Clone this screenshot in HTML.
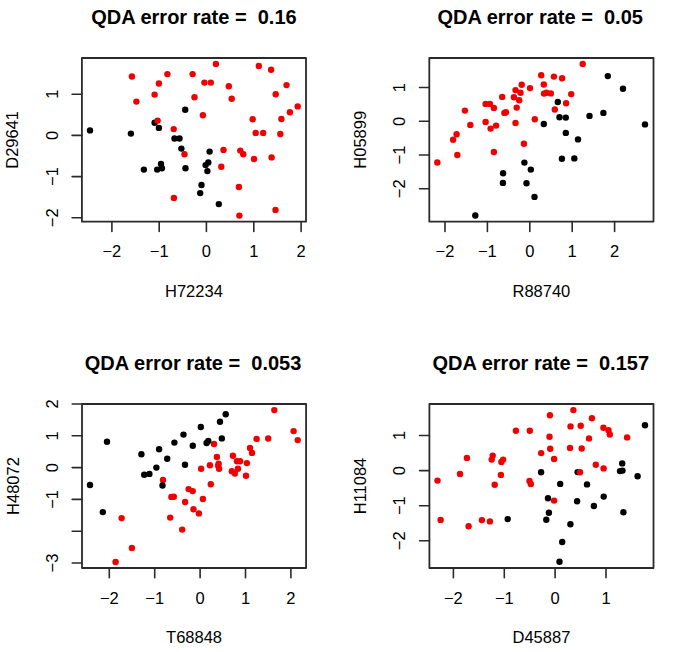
<!DOCTYPE html><html><head><meta charset="utf-8"><style>html,body{margin:0;padding:0;background:#fff;width:685px;height:652px;overflow:hidden}svg{display:block}text{font-family:"Liberation Sans",sans-serif;fill:#000}</style></head><body>
<svg width="685" height="652" viewBox="0 0 685 652">
<rect width="685" height="652" fill="#fff"/>
<circle cx="131.9" cy="76.5" r="3.2" fill="#f00000"/><circle cx="167.4" cy="74.1" r="3.2" fill="#f00000"/><circle cx="192.6" cy="74.1" r="3.2" fill="#f00000"/><circle cx="158.9" cy="83.5" r="3.2" fill="#f00000"/><circle cx="154.6" cy="94.6" r="3.2" fill="#f00000"/><circle cx="136.4" cy="101.6" r="3.2" fill="#f00000"/><circle cx="194.5" cy="97.2" r="3.2" fill="#f00000"/><circle cx="173.7" cy="129.1" r="3.2" fill="#f00000"/><circle cx="215.9" cy="63.9" r="3.2" fill="#f00000"/><circle cx="204.4" cy="82.6" r="3.2" fill="#f00000"/><circle cx="210.8" cy="82.6" r="3.2" fill="#f00000"/><circle cx="228.8" cy="86.3" r="3.2" fill="#f00000"/><circle cx="231.7" cy="98.8" r="3.2" fill="#f00000"/><circle cx="202.9" cy="115.2" r="3.2" fill="#f00000"/><circle cx="258.8" cy="66" r="3.2" fill="#f00000"/><circle cx="271.1" cy="69.7" r="3.2" fill="#f00000"/><circle cx="286.5" cy="85.1" r="3.2" fill="#f00000"/><circle cx="275.7" cy="94.2" r="3.2" fill="#f00000"/><circle cx="297.7" cy="106.4" r="3.2" fill="#f00000"/><circle cx="289.9" cy="112.2" r="3.2" fill="#f00000"/><circle cx="281.4" cy="119" r="3.2" fill="#f00000"/><circle cx="252.7" cy="119.3" r="3.2" fill="#f00000"/><circle cx="255.7" cy="132.9" r="3.2" fill="#f00000"/><circle cx="263.2" cy="132.9" r="3.2" fill="#f00000"/><circle cx="280.3" cy="134" r="3.2" fill="#f00000"/><circle cx="184.5" cy="154.3" r="3.2" fill="#f00000"/><circle cx="173.9" cy="197.9" r="3.2" fill="#f00000"/><circle cx="223.5" cy="149.9" r="3.2" fill="#f00000"/><circle cx="240.3" cy="150.6" r="3.2" fill="#f00000"/><circle cx="243.3" cy="154.3" r="3.2" fill="#f00000"/><circle cx="254" cy="159" r="3.2" fill="#f00000"/><circle cx="271.6" cy="157.4" r="3.2" fill="#f00000"/><circle cx="221.3" cy="166.8" r="3.2" fill="#f00000"/><circle cx="238.9" cy="187" r="3.2" fill="#f00000"/><circle cx="275.5" cy="209.9" r="3.2" fill="#f00000"/><circle cx="239.4" cy="215.6" r="3.2" fill="#f00000"/><circle cx="185.2" cy="109.8" r="3.2" fill="#000"/><circle cx="154.6" cy="122.7" r="3.2" fill="#000"/><circle cx="158.9" cy="127.9" r="3.2" fill="#000"/><circle cx="90" cy="130.4" r="3.2" fill="#000"/><circle cx="130.9" cy="133.6" r="3.2" fill="#000"/><circle cx="174.5" cy="138.5" r="3.2" fill="#000"/><circle cx="179.5" cy="138.5" r="3.2" fill="#000"/><circle cx="181.4" cy="148.6" r="3.2" fill="#000"/><circle cx="161" cy="164" r="3.2" fill="#000"/><circle cx="143.9" cy="169.6" r="3.2" fill="#000"/><circle cx="157.2" cy="169.6" r="3.2" fill="#000"/><circle cx="161.9" cy="168.3" r="3.2" fill="#000"/><circle cx="185.5" cy="168.3" r="3.2" fill="#000"/><circle cx="209.6" cy="151.6" r="3.2" fill="#000"/><circle cx="208.3" cy="162.4" r="3.2" fill="#000"/><circle cx="205.6" cy="165.1" r="3.2" fill="#000"/><circle cx="207.4" cy="171.1" r="3.2" fill="#000"/><circle cx="201.5" cy="185" r="3.2" fill="#000"/><circle cx="200.2" cy="193.1" r="3.2" fill="#000"/><circle cx="218.8" cy="204.1" r="3.2" fill="#000"/><circle cx="157.6" cy="120.6" r="3.2" fill="#f00000"/>
<rect x="81.9" y="58" width="224.1" height="163.7" fill="none" stroke="#2a2a2a" stroke-width="1.8" stroke-linejoin="round"/>
<path d="M111.9 221.7V231.5M159.2 221.7V231.5M206.4 221.7V231.5M253.8 221.7V231.5M301.1 221.7V231.5M81.9 217.8H72.1M81.9 176.6H72.1M81.9 135.4H72.1M81.9 94.2H72.1" stroke="#2a2a2a" stroke-width="1.6" stroke-linecap="round" fill="none"/>
<text x="111.9" y="257.3" font-size="16.5" text-anchor="middle">−2</text>
<text x="159.2" y="257.3" font-size="16.5" text-anchor="middle">−1</text>
<text x="206.4" y="257.3" font-size="16.5" text-anchor="middle">0</text>
<text x="253.8" y="257.3" font-size="16.5" text-anchor="middle">1</text>
<text x="301.1" y="257.3" font-size="16.5" text-anchor="middle">2</text>
<text transform="translate(57.9 217.8) rotate(-90)" font-size="16.5" text-anchor="middle">−2</text>
<text transform="translate(57.9 176.6) rotate(-90)" font-size="16.5" text-anchor="middle">−1</text>
<text transform="translate(57.9 135.4) rotate(-90)" font-size="16.5" text-anchor="middle">0</text>
<text transform="translate(57.9 94.2) rotate(-90)" font-size="16.5" text-anchor="middle">1</text>
<text x="193.95" y="296.6" font-size="16.5" text-anchor="middle">H72234</text>
<text transform="translate(18.4 139.85) rotate(-90)" font-size="16.5" text-anchor="middle">D29641</text>
<text x="193.95" y="24.2" font-size="20.0" font-weight="bold" text-anchor="middle">QDA error rate =  0.16</text>
<circle cx="521.7" cy="84.8" r="3.2" fill="#f00000"/><circle cx="530" cy="88.1" r="3.2" fill="#f00000"/><circle cx="515.5" cy="90.1" r="3.2" fill="#f00000"/><circle cx="520.5" cy="92.8" r="3.2" fill="#f00000"/><circle cx="502.2" cy="96.9" r="3.2" fill="#f00000"/><circle cx="513.9" cy="97.3" r="3.2" fill="#f00000"/><circle cx="519.2" cy="100.3" r="3.2" fill="#f00000"/><circle cx="485.6" cy="103.9" r="3.2" fill="#f00000"/><circle cx="489.9" cy="103.9" r="3.2" fill="#f00000"/><circle cx="493.9" cy="107.9" r="3.2" fill="#f00000"/><circle cx="516.7" cy="107.6" r="3.2" fill="#f00000"/><circle cx="464.9" cy="110.6" r="3.2" fill="#f00000"/><circle cx="504.4" cy="112.9" r="3.2" fill="#f00000"/><circle cx="505.9" cy="112.3" r="3.2" fill="#f00000"/><circle cx="534.8" cy="119.2" r="3.2" fill="#f00000"/><circle cx="485.6" cy="121.9" r="3.2" fill="#f00000"/><circle cx="470.3" cy="124.9" r="3.2" fill="#f00000"/><circle cx="496.1" cy="125.6" r="3.2" fill="#f00000"/><circle cx="490.6" cy="128.6" r="3.2" fill="#f00000"/><circle cx="515.5" cy="122.9" r="3.2" fill="#f00000"/><circle cx="456.6" cy="134.2" r="3.2" fill="#f00000"/><circle cx="453.1" cy="139.8" r="3.2" fill="#f00000"/><circle cx="582.7" cy="63.9" r="3.2" fill="#f00000"/><circle cx="541.2" cy="75.3" r="3.2" fill="#f00000"/><circle cx="553.9" cy="76.6" r="3.2" fill="#f00000"/><circle cx="562.1" cy="78.3" r="3.2" fill="#f00000"/><circle cx="543.8" cy="84.5" r="3.2" fill="#f00000"/><circle cx="544" cy="93.6" r="3.2" fill="#f00000"/><circle cx="546.4" cy="92.8" r="3.2" fill="#f00000"/><circle cx="550.8" cy="93.4" r="3.2" fill="#f00000"/><circle cx="571.2" cy="94.1" r="3.2" fill="#f00000"/><circle cx="566.1" cy="103.2" r="3.2" fill="#f00000"/><circle cx="554.8" cy="109.5" r="3.2" fill="#f00000"/><circle cx="457.3" cy="155" r="3.2" fill="#f00000"/><circle cx="437.3" cy="162.5" r="3.2" fill="#f00000"/><circle cx="493.9" cy="152" r="3.2" fill="#f00000"/><circle cx="523.9" cy="143.7" r="3.2" fill="#f00000"/><circle cx="607.8" cy="76.1" r="3.2" fill="#000"/><circle cx="623" cy="88.7" r="3.2" fill="#000"/><circle cx="557.8" cy="102" r="3.2" fill="#000"/><circle cx="603.4" cy="112.9" r="3.2" fill="#000"/><circle cx="589.5" cy="115.9" r="3.2" fill="#000"/><circle cx="559.5" cy="117.3" r="3.2" fill="#000"/><circle cx="565.8" cy="117.6" r="3.2" fill="#000"/><circle cx="543.8" cy="124" r="3.2" fill="#000"/><circle cx="645" cy="124.4" r="3.2" fill="#000"/><circle cx="565.8" cy="132.9" r="3.2" fill="#000"/><circle cx="578" cy="139.4" r="3.2" fill="#000"/><circle cx="524.4" cy="162.6" r="3.2" fill="#000"/><circle cx="530.8" cy="169.6" r="3.2" fill="#000"/><circle cx="503.1" cy="173.3" r="3.2" fill="#000"/><circle cx="502.9" cy="182.9" r="3.2" fill="#000"/><circle cx="526.5" cy="183.3" r="3.2" fill="#000"/><circle cx="534.5" cy="196.9" r="3.2" fill="#000"/><circle cx="475.3" cy="215.5" r="3.2" fill="#000"/><circle cx="561.9" cy="158.7" r="3.2" fill="#000"/><circle cx="574.3" cy="158.4" r="3.2" fill="#000"/>
<rect x="429.3" y="58" width="224.2" height="163.6" fill="none" stroke="#2a2a2a" stroke-width="1.8" stroke-linejoin="round"/>
<path d="M445 221.6V231.4M487.4 221.6V231.4M529.8 221.6V231.4M572.2 221.6V231.4M614.6 221.6V231.4M429.3 188.8H419.5M429.3 155.05H419.5M429.3 121.3H419.5M429.3 87.55H419.5" stroke="#2a2a2a" stroke-width="1.6" stroke-linecap="round" fill="none"/>
<text x="445" y="257.2" font-size="16.5" text-anchor="middle">−2</text>
<text x="487.4" y="257.2" font-size="16.5" text-anchor="middle">−1</text>
<text x="529.8" y="257.2" font-size="16.5" text-anchor="middle">0</text>
<text x="572.2" y="257.2" font-size="16.5" text-anchor="middle">1</text>
<text x="614.6" y="257.2" font-size="16.5" text-anchor="middle">2</text>
<text transform="translate(405.3 188.8) rotate(-90)" font-size="16.5" text-anchor="middle">−2</text>
<text transform="translate(405.3 155.05) rotate(-90)" font-size="16.5" text-anchor="middle">−1</text>
<text transform="translate(405.3 121.3) rotate(-90)" font-size="16.5" text-anchor="middle">0</text>
<text transform="translate(405.3 87.55) rotate(-90)" font-size="16.5" text-anchor="middle">1</text>
<text x="541.4" y="296.5" font-size="16.5" text-anchor="middle">R88740</text>
<text transform="translate(365.8 139.8) rotate(-90)" font-size="16.5" text-anchor="middle">H05899</text>
<text x="540.2" y="24.2" font-size="20.0" font-weight="bold" text-anchor="middle">QDA error rate =  0.05</text>
<circle cx="274.3" cy="410.1" r="3.2" fill="#f00000"/><circle cx="293.6" cy="431.1" r="3.2" fill="#f00000"/><circle cx="297.7" cy="440.1" r="3.2" fill="#f00000"/><circle cx="256.6" cy="438.9" r="3.2" fill="#f00000"/><circle cx="268.2" cy="438.5" r="3.2" fill="#f00000"/><circle cx="214" cy="444" r="3.2" fill="#f00000"/><circle cx="250" cy="448" r="3.2" fill="#f00000"/><circle cx="252" cy="452.9" r="3.2" fill="#f00000"/><circle cx="216.9" cy="457" r="3.2" fill="#f00000"/><circle cx="232.9" cy="455.7" r="3.2" fill="#f00000"/><circle cx="237" cy="461.2" r="3.2" fill="#f00000"/><circle cx="240.1" cy="461.2" r="3.2" fill="#f00000"/><circle cx="246.9" cy="463.1" r="3.2" fill="#f00000"/><circle cx="218.6" cy="463.6" r="3.2" fill="#f00000"/><circle cx="218.2" cy="465.8" r="3.2" fill="#f00000"/><circle cx="219.1" cy="468.8" r="3.2" fill="#f00000"/><circle cx="209.9" cy="465.3" r="3.2" fill="#f00000"/><circle cx="201.1" cy="468.8" r="3.2" fill="#f00000"/><circle cx="237.9" cy="468.8" r="3.2" fill="#f00000"/><circle cx="231.8" cy="471.3" r="3.2" fill="#f00000"/><circle cx="234.9" cy="473.6" r="3.2" fill="#f00000"/><circle cx="246" cy="475.8" r="3.2" fill="#f00000"/><circle cx="210.8" cy="484.3" r="3.2" fill="#f00000"/><circle cx="163" cy="479.9" r="3.2" fill="#f00000"/><circle cx="188.6" cy="489.1" r="3.2" fill="#f00000"/><circle cx="192.7" cy="491.1" r="3.2" fill="#f00000"/><circle cx="171.4" cy="496.9" r="3.2" fill="#f00000"/><circle cx="173.8" cy="496.7" r="3.2" fill="#f00000"/><circle cx="185.1" cy="502" r="3.2" fill="#f00000"/><circle cx="202.9" cy="499" r="3.2" fill="#f00000"/><circle cx="193.5" cy="509.2" r="3.2" fill="#f00000"/><circle cx="198.9" cy="513.4" r="3.2" fill="#f00000"/><circle cx="170.2" cy="517.6" r="3.2" fill="#f00000"/><circle cx="182.2" cy="529.6" r="3.2" fill="#f00000"/><circle cx="121.6" cy="518.1" r="3.2" fill="#f00000"/><circle cx="131.9" cy="547.9" r="3.2" fill="#f00000"/><circle cx="115.6" cy="561.9" r="3.2" fill="#f00000"/><circle cx="107" cy="441.8" r="3.2" fill="#000"/><circle cx="141.4" cy="454.3" r="3.2" fill="#000"/><circle cx="159.1" cy="449.3" r="3.2" fill="#000"/><circle cx="174.4" cy="442.6" r="3.2" fill="#000"/><circle cx="183.5" cy="434.6" r="3.2" fill="#000"/><circle cx="192.8" cy="445.8" r="3.2" fill="#000"/><circle cx="167.2" cy="458.8" r="3.2" fill="#000"/><circle cx="185" cy="464.7" r="3.2" fill="#000"/><circle cx="156.4" cy="467.6" r="3.2" fill="#000"/><circle cx="144.2" cy="474.7" r="3.2" fill="#000"/><circle cx="149.4" cy="473.9" r="3.2" fill="#000"/><circle cx="162.5" cy="485.5" r="3.2" fill="#000"/><circle cx="90" cy="485" r="3.2" fill="#000"/><circle cx="102.8" cy="512.1" r="3.2" fill="#000"/><circle cx="225.7" cy="414.3" r="3.2" fill="#000"/><circle cx="220" cy="421.8" r="3.2" fill="#000"/><circle cx="200.8" cy="427" r="3.2" fill="#000"/><circle cx="221.8" cy="438.4" r="3.2" fill="#000"/><circle cx="208.3" cy="440.9" r="3.2" fill="#000"/><circle cx="206.6" cy="443" r="3.2" fill="#000"/>
<rect x="82" y="404" width="224.1" height="164" fill="none" stroke="#2a2a2a" stroke-width="1.8" stroke-linejoin="round"/>
<path d="M109.3 568V577.8M154.7 568V577.8M200.1 568V577.8M245.5 568V577.8M290.9 568V577.8M82 563H72.2M82 531.2H72.2M82 499.4H72.2M82 467.6H72.2M82 435.8H72.2M82 404H72.2" stroke="#2a2a2a" stroke-width="1.6" stroke-linecap="round" fill="none"/>
<text x="109.3" y="603.6" font-size="16.5" text-anchor="middle">−2</text>
<text x="154.7" y="603.6" font-size="16.5" text-anchor="middle">−1</text>
<text x="200.1" y="603.6" font-size="16.5" text-anchor="middle">0</text>
<text x="245.5" y="603.6" font-size="16.5" text-anchor="middle">1</text>
<text x="290.9" y="603.6" font-size="16.5" text-anchor="middle">2</text>
<text transform="translate(58 563) rotate(-90)" font-size="16.5" text-anchor="middle">−3</text>
<text transform="translate(58 499.4) rotate(-90)" font-size="16.5" text-anchor="middle">−1</text>
<text transform="translate(58 467.6) rotate(-90)" font-size="16.5" text-anchor="middle">0</text>
<text transform="translate(58 435.8) rotate(-90)" font-size="16.5" text-anchor="middle">1</text>
<text transform="translate(58 404) rotate(-90)" font-size="16.5" text-anchor="middle">2</text>
<text x="194.05" y="642.9" font-size="16.5" text-anchor="middle">T68848</text>
<text transform="translate(18.5 486) rotate(-90)" font-size="16.5" text-anchor="middle">H48072</text>
<text x="193.05" y="370.2" font-size="20.0" font-weight="bold" text-anchor="middle">QDA error rate =  0.053</text>
<circle cx="515.9" cy="430.8" r="3.2" fill="#f00000"/><circle cx="529.8" cy="430.8" r="3.2" fill="#f00000"/><circle cx="466.9" cy="457.9" r="3.2" fill="#f00000"/><circle cx="492.7" cy="455.6" r="3.2" fill="#f00000"/><circle cx="491.7" cy="459.6" r="3.2" fill="#f00000"/><circle cx="503.1" cy="459.6" r="3.2" fill="#f00000"/><circle cx="501.4" cy="461.9" r="3.2" fill="#f00000"/><circle cx="460" cy="473.9" r="3.2" fill="#f00000"/><circle cx="500.9" cy="474.9" r="3.2" fill="#f00000"/><circle cx="437.5" cy="480.6" r="3.2" fill="#f00000"/><circle cx="494.7" cy="484.7" r="3.2" fill="#f00000"/><circle cx="529.5" cy="480.9" r="3.2" fill="#f00000"/><circle cx="530.8" cy="483.9" r="3.2" fill="#f00000"/><circle cx="541.2" cy="453.1" r="3.2" fill="#f00000"/><circle cx="573.4" cy="410.1" r="3.2" fill="#f00000"/><circle cx="549.9" cy="415.2" r="3.2" fill="#f00000"/><circle cx="591.9" cy="418.2" r="3.2" fill="#f00000"/><circle cx="570.5" cy="426.4" r="3.2" fill="#f00000"/><circle cx="580.7" cy="425.7" r="3.2" fill="#f00000"/><circle cx="603.4" cy="427.7" r="3.2" fill="#f00000"/><circle cx="608.5" cy="430.2" r="3.2" fill="#f00000"/><circle cx="609.8" cy="434.5" r="3.2" fill="#f00000"/><circle cx="549.5" cy="436.7" r="3.2" fill="#f00000"/><circle cx="589" cy="438.4" r="3.2" fill="#f00000"/><circle cx="627.1" cy="437.4" r="3.2" fill="#f00000"/><circle cx="550.2" cy="448.7" r="3.2" fill="#f00000"/><circle cx="570" cy="447.9" r="3.2" fill="#f00000"/><circle cx="581.7" cy="448.5" r="3.2" fill="#f00000"/><circle cx="554.1" cy="459" r="3.2" fill="#f00000"/><circle cx="595.8" cy="464.8" r="3.2" fill="#f00000"/><circle cx="603.6" cy="468.4" r="3.2" fill="#f00000"/><circle cx="440.6" cy="519.9" r="3.2" fill="#f00000"/><circle cx="468.6" cy="526.3" r="3.2" fill="#f00000"/><circle cx="481.9" cy="520.1" r="3.2" fill="#f00000"/><circle cx="489.9" cy="521.4" r="3.2" fill="#f00000"/><circle cx="645" cy="425.3" r="3.2" fill="#000"/><circle cx="622.2" cy="463.4" r="3.2" fill="#000"/><circle cx="620" cy="471.1" r="3.2" fill="#000"/><circle cx="622.5" cy="470.6" r="3.2" fill="#000"/><circle cx="637.6" cy="476.3" r="3.2" fill="#000"/><circle cx="541.1" cy="472.2" r="3.2" fill="#000"/><circle cx="577.6" cy="472.1" r="3.2" fill="#000"/><circle cx="560.2" cy="483.9" r="3.2" fill="#000"/><circle cx="587" cy="484.4" r="3.2" fill="#000"/><circle cx="507.7" cy="519.1" r="3.2" fill="#000"/><circle cx="548" cy="498.3" r="3.2" fill="#000"/><circle cx="577.1" cy="501.3" r="3.2" fill="#000"/><circle cx="603.7" cy="496.6" r="3.2" fill="#000"/><circle cx="593.9" cy="506" r="3.2" fill="#000"/><circle cx="623.4" cy="512.3" r="3.2" fill="#000"/><circle cx="548.9" cy="512.8" r="3.2" fill="#000"/><circle cx="546.3" cy="519.8" r="3.2" fill="#000"/><circle cx="570.4" cy="524.2" r="3.2" fill="#000"/><circle cx="562.2" cy="542" r="3.2" fill="#000"/><circle cx="559.5" cy="561.8" r="3.2" fill="#000"/><circle cx="580" cy="472.2" r="3.2" fill="#f00000"/><circle cx="554.1" cy="500.6" r="3.2" fill="#f00000"/>
<rect x="429.4" y="404" width="224.1" height="164" fill="none" stroke="#2a2a2a" stroke-width="1.8" stroke-linejoin="round"/>
<path d="M453.4 568V577.8M504.3 568V577.8M555.1 568V577.8M606 568V577.8M429.4 540.8H419.6M429.4 505.7H419.6M429.4 470.6H419.6M429.4 435.5H419.6" stroke="#2a2a2a" stroke-width="1.6" stroke-linecap="round" fill="none"/>
<text x="453.4" y="603.6" font-size="16.5" text-anchor="middle">−2</text>
<text x="504.3" y="603.6" font-size="16.5" text-anchor="middle">−1</text>
<text x="555.1" y="603.6" font-size="16.5" text-anchor="middle">0</text>
<text x="606" y="603.6" font-size="16.5" text-anchor="middle">1</text>
<text transform="translate(405.4 540.8) rotate(-90)" font-size="16.5" text-anchor="middle">−2</text>
<text transform="translate(405.4 505.7) rotate(-90)" font-size="16.5" text-anchor="middle">−1</text>
<text transform="translate(405.4 470.6) rotate(-90)" font-size="16.5" text-anchor="middle">0</text>
<text transform="translate(405.4 435.5) rotate(-90)" font-size="16.5" text-anchor="middle">1</text>
<text x="541.45" y="642.9" font-size="16.5" text-anchor="middle">D45887</text>
<text transform="translate(365.9 486) rotate(-90)" font-size="16.5" text-anchor="middle">H11084</text>
<text x="540.75" y="370.2" font-size="20.0" font-weight="bold" text-anchor="middle">QDA error rate =  0.157</text>
</svg></body></html>
